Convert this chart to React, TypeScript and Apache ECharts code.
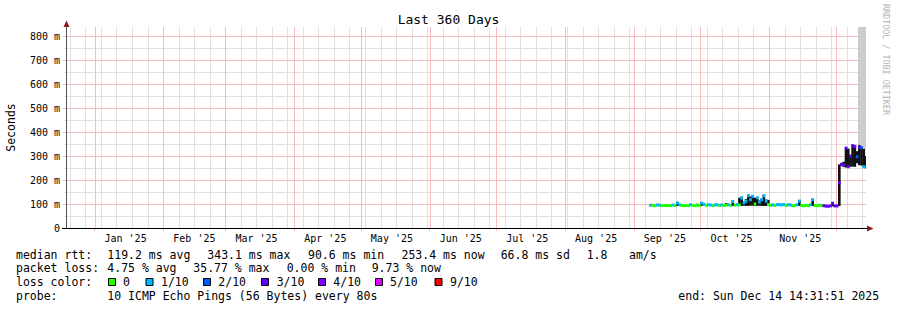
import React, { useEffect, useRef } from 'react';
import * as echarts from 'echarts';

// ---------- time frame ----------
const END_TIME = '2025-12-14T14:31:51Z';
const SPAN_DAYS = 360;
const DAY = 86400000;
const END = Date.parse(END_TIME);
const START = END - SPAN_DAYS * DAY;

// ---------- axes ----------
const monthLabels = ["Jan '25", "Feb '25", "Mar '25", "Apr '25", "May '25", "Jun '25", "Jul '25", "Aug '25", "Sep '25", "Oct '25", "Nov '25"];
const monthLabelDates = ['2025-01-15', '2025-02-15', '2025-03-15', '2025-04-15', '2025-05-15', '2025-06-15', '2025-07-15', '2025-08-15', '2025-09-15', '2025-10-15', '2025-11-15'];
const monthGridDates = ['2025-01-01', '2025-02-01', '2025-03-01', '2025-04-01', '2025-05-01', '2025-06-01', '2025-07-01', '2025-08-01', '2025-09-01', '2025-10-01', '2025-11-01', '2025-12-01'];
const firstWeekLine = '2024-12-21';
const yTicks = [0, 100, 200, 300, 400, 500, 600, 700, 800];
const yMinorTicks = [50, 150, 250, 350, 450, 550, 650, 750];
const Y_MAX = 837.5;

// ---------- data (daily bins from firstDay) ----------
const firstDay = '2025-09-08';
const medianRtt = [
  // Sep 8-30
  95, 94, 93, 96, 95, 93, 94, 93, 94, 93, 96, 94, 104, 97, 94, 93, 94, 93, 97, 94, 93, 95, 94,
  // Oct
  104, 99, 94, 97, 96, 93, 96, 97, 94, 96, 94, 95, 97, 94, 110, 95, 98, 96, 125, 105, 112, 135, 118, 132, 100, 126, 108, 118, 134, 112, 98,
  // Nov
  94, 97, 94, 98, 97, 96, 98, 94, 97, 96, 93, 94, 97, 112, 94, 93, 94, 93, 97, 118, 94, 93, 94, 93, 93, 91, 90.6, 92, 103, 92,
  // Dec 1-14
  92, 188, 264, 262, 333, 255, 300, 343.1, 340, 297, 338, 335, 255, 253.4,
];
const lossLevel = [
  1, 0, 0, 1, 1, 0, 0, 0, 0, 0, 1, 0, 1, 1, 0, 0, 0, 0, 1, 0, 0, 0, 0,
  1, 1, 0, 1, 1, 0, 1, 1, 0, 1, 0, 0, 1, 0, 1, 0, 1, 0, 1, 1, 1, 1, 1, 1, 0, 1, 1, 1, 1, 1, 0,
  0, 1, 0, 1, 1, 1, 1, 0, 1, 1, 0, 0, 1, 1, 0, 0, 0, 0, 1, 1, 0, 0, 0, 0, 3, 3, 3, 3, 3, 3,
  3, 3, 3, 4, 3, 3, 3, 3, 4, 2, 3, 2, 1, 1,
];
const smokeLo = [
  92, 91, 90, 93, 92, 90, 91, 90, 91, 90, 93, 91, 92, 94, 91, 90, 91, 90, 94, 91, 90, 92, 91,
  92, 96, 91, 94, 93, 90, 93, 94, 91, 93, 91, 92, 94, 91, 92, 92, 95, 92, 92, 93, 92, 92, 93, 93, 92, 92, 93, 92, 92, 92, 92,
  91, 94, 91, 95, 94, 93, 95, 91, 94, 93, 90, 91, 94, 92, 91, 90, 91, 90, 94, 92, 91, 90, 91, 90, 90, 88, 88, 89, 90, 89,
  89, 92, 258, 254, 252, 253, 255, 256, 255, 270, 262, 260, 253, 252,
];
const smokeHi = [
  97, 96, 95, 98, 97, 95, 96, 95, 96, 95, 98, 96, 109, 99, 96, 95, 96, 95, 99, 96, 95, 101, 96,
  108, 104, 96, 99, 98, 95, 98, 99, 96, 98, 96, 104, 99, 96, 115, 97, 102, 126, 131, 110, 121, 139, 131, 137, 126, 129, 115, 123, 139, 119, 117,
  96, 99, 96, 100, 99, 98, 100, 96, 99, 98, 95, 96, 99, 117, 96, 95, 96, 95, 99, 122, 96, 95, 96, 95, 95, 93, 93, 94, 108, 94,
  94, 265, 272, 276, 336, 331, 305, 347, 346, 320, 346, 336, 330, 300,
];
const greyDates = ['2025-11-05', '2025-11-06', '2025-11-07', '2025-11-08', '2025-11-22', '2025-11-23', '2025-11-24', '2025-12-11', '2025-12-12', '2025-12-13', '2025-12-14'];
const greyLo = [97, 98, 97, 98, 96, 96, 96, 330, 330, 330, 330];
const greyHi = [104, 103, 104, 103, 101, 102, 101, 900, 900, 900, 900];

// ---------- legend ----------
const lossLevels = [0, 1, 2, 3, 4, 5, 9];
const lossNames = ['0', '1/10', '2/10', '3/10', '4/10', '5/10', '9/10'];
const lossColors = ['#26ff00', '#00b8ff', '#0059ff', '#5e00ff', '#7e00ff', '#dd00ff', '#ff0000'];
const rttStats = ['119.2 ms avg', '343.1 ms max', '90.6 ms min', '253.4 ms now', '66.8 ms sd', '1.8', 'am/s'];
const lossStats = ['4.75 % avg', '35.77 % max', '0.00 % min', '9.73 % now'];
const probeText = '10 ICMP Echo Pings (56 Bytes) every 80s';
const endText = 'end: Sun Dec 14 14:31:51 2025';

const MONO = 'DejaVu Sans Mono';
const RED_GRID = '#f6bcbc';
const GREY_GRID = '#e0e0e0';

function buildOption() {
  const day0 = Date.parse(firstDay + 'T00:00:00Z');
  const dayTimes = medianRtt.map((_, i) => day0 + i * DAY);
  const monthLabelTimes = monthLabelDates.map((d) => Date.parse(d + 'T00:00:00Z'));
  const monthGridTimes = monthGridDates.map((d) => Date.parse(d + 'T00:00:00Z'));
  const weekTimes: number[] = [];
  for (let t = Date.parse(firstWeekLine + 'T00:00:00Z'); t <= END; t += 7 * DAY) weekTimes.push(t);

  const bandRender = (color: string) => (params: any, api: any) => {
    const t = api.value(0);
    const a = api.coord([t, api.value(2)]);
    const b = api.coord([t + DAY, api.value(1)]);
    return {
      type: 'rect',
      shape: { x: a[0], y: a[1], width: b[0] - a[0] + 0.4, height: Math.max(b[1] - a[1], 1) },
      style: { fill: color },
    };
  };
  const medianRender = (params: any, api: any) => {
    const t = api.value(0);
    const a = api.coord([t, api.value(1)]);
    const b = api.coord([t + DAY, api.value(1)]);
    const c = lossColors[lossLevels.indexOf(api.value(2))] || '#000';
    return {
      type: 'rect',
      shape: { x: a[0], y: a[1] - 1.5, width: b[0] - a[0] + 0.4, height: 3 },
      style: { fill: c },
    };
  };
  // major grid: one line per month start / per 100 m, placed through the scales
  const majorGridRender = (params: any, api: any) => {
    const kind = api.value(0);
    const v = api.value(1);
    let x1, y1, x2, y2;
    if (kind === 0) {
      const p = api.coord([v, 0]);
      const q = api.coord([v, Y_MAX]);
      x1 = Math.round(p[0]) + 0.5; x2 = x1; y1 = p[1]; y2 = q[1];
    } else {
      const p = api.coord([START, v]);
      const q = api.coord([END, v]);
      y1 = Math.round(p[1]) + 0.5; y2 = y1; x1 = p[0]; x2 = q[0];
    }
    return {
      type: 'line',
      shape: { x1, y1, x2, y2 },
      style: { stroke: RED_GRID, lineWidth: 1 },
    };
  };

  const legendY = [254.6, 268.3, 282, 295.7];
  const txt = (x: number, y: number, text: string) => ({
    type: 'text',
    x,
    y,
    style: { text, fill: '#000', font: `11.5px "${MONO}"`, verticalAlign: 'middle' },
    silent: true,
  });
  const rttX = [107.3, 207.3, 308, 401.5, 500.7, 586.7, 629];
  const lossX = [107.3, 193.3, 286.7, 371.7];
  const boxX = [108.5, 146, 203.5, 261.5, 318.5, 375.5, 435];
  const boxTextX = [123, 161, 218.3, 276.7, 333.3, 390, 450];

  const graphics: any[] = [
    txt(16, legendY[0], 'median rtt:'),
    ...rttStats.map((s, i) => txt(rttX[i], legendY[0], s)),
    txt(16, legendY[1], 'packet loss:'),
    ...lossStats.map((s, i) => txt(lossX[i], legendY[1], s)),
    txt(16, legendY[2], 'loss color:'),
    ...lossNames.map((n, i) => ({
      type: 'rect',
      shape: { x: boxX[i], y: legendY[2] - 3.5, width: 7, height: 7 },
      style: { fill: lossColors[i], stroke: '#000', lineWidth: 1 },
      silent: true,
    })),
    ...lossNames.map((n, i) => txt(boxTextX[i], legendY[2], n)),
    txt(16, legendY[3], 'probe:'),
    txt(107.3, legendY[3], probeText),
    txt(678.3, legendY[3], endText),
    {
      type: 'text',
      x: 11,
      y: 127.5,
      rotation: Math.PI / 2,
      style: { text: 'Seconds', fill: '#000', font: `11.5px "${MONO}"`, align: 'center', verticalAlign: 'middle' },
      silent: true,
    },
    {
      type: 'text',
      x: 886,
      y: 4,
      rotation: -Math.PI / 2,
      style: { text: 'RRDTOOL / TOBI OETIKER', fill: '#b4b4b4', font: `8.4px "${MONO}"`, align: 'left', verticalAlign: 'middle' },
      silent: true,
    },
    // axis lines & arrows
    { type: 'line', shape: { x1: 62, y1: 228.5, x2: 868, y2: 228.5 }, style: { stroke: '#000', lineWidth: 1 }, silent: true, z: 10 },
    { type: 'line', shape: { x1: 66.5, y1: 26, x2: 66.5, y2: 228 }, style: { stroke: '#555', lineWidth: 1 }, silent: true, z: 10 },
    { type: 'polygon', shape: { points: [[867, 225.5], [873.5, 228.5], [867, 231.5]] }, style: { fill: '#8b1a1a' }, silent: true, z: 11 },
    { type: 'polygon', shape: { points: [[63.5, 27], [66.5, 20.5], [69.5, 27]] }, style: { fill: '#8b1a1a' }, silent: true, z: 11 },
  ];

  const majorGridData = [
    ...monthGridTimes.map((t) => [0, t]),
    ...yTicks.filter((v) => v > 0).map((v) => [1, v]),
  ];

  return {
    animation: false,
    backgroundColor: '#ffffff',
    tooltip: { show: false },
    title: {
      text: 'Last 360 Days',
      left: 'center',
      top: 8,
      textStyle: { fontFamily: MONO, fontSize: 13, fontWeight: 'normal', color: '#000' },
    },
    grid: { left: 67, right: 31, top: 27, bottom: 82, containLabel: false, outerBoundsMode: 'none' },
    xAxis: [
      {
        type: 'value',
        position: 'bottom',
        min: START,
        max: END,
        axisLine: { show: false },
        axisTick: { show: true, customValues: weekTimes, length: 2, inside: true, lineStyle: { color: GREY_GRID } },
        axisLabel: { show: false },
        splitLine: { show: true, lineStyle: { color: GREY_GRID, width: 1 } },
      },
      {
        type: 'value',
        position: 'bottom',
        min: START,
        max: END,
        axisLine: { show: false },
        axisTick: { show: true, customValues: monthGridTimes, length: 3, inside: false, lineStyle: { color: RED_GRID } },
        axisLabel: {
          show: true,
          customValues: monthLabelTimes,
          formatter: (v: number) => {
            const i = monthLabelTimes.indexOf(v);
            return i >= 0 ? monthLabels[i] : '';
          },
          fontFamily: MONO,
          fontSize: 10,
          color: '#000',
          margin: 5,
        },
        splitLine: { show: false },
      },
    ],
    yAxis: [
      {
        type: 'value',
        position: 'left',
        min: 0,
        max: Y_MAX,
        axisLine: { show: false },
        axisTick: { show: true, customValues: yMinorTicks, length: 2, lineStyle: { color: GREY_GRID } },
        axisLabel: { show: false },
        splitLine: { show: true, lineStyle: { color: GREY_GRID, width: 1 } },
      },
      {
        type: 'value',
        position: 'left',
        min: 0,
        max: Y_MAX,
        axisLine: { show: false },
        axisTick: { show: true, customValues: yTicks, length: 4, lineStyle: { color: RED_GRID } },
        axisLabel: {
          show: true,
          customValues: yTicks,
          formatter: (v: number) => (v === 0 ? '0' : `${v} m`),
          fontFamily: MONO,
          fontSize: 10,
          color: '#000',
          margin: 7,
        },
        splitLine: { show: false },
      },
    ],
    series: [
      {
        name: 'major grid',
        type: 'custom',
        xAxisIndex: 0,
        yAxisIndex: 0,
        clip: false,
        silent: true,
        renderItem: majorGridRender,
        encode: { x: -1, y: -1 },
        data: majorGridData,
        z: 1,
      },
      {
        name: 'smoke grey',
        type: 'custom',
        xAxisIndex: 0,
        yAxisIndex: 0,
        clip: true,
        silent: true,
        renderItem: bandRender('#cccccc'),
        encode: { x: 0, y: [1, 2] },
        data: greyDates.map((d, i) => [Date.parse(d + 'T00:00:00Z'), greyLo[i], greyHi[i]]),
        z: 2,
      },
      {
        name: 'smoke',
        type: 'custom',
        xAxisIndex: 0,
        yAxisIndex: 0,
        clip: true,
        silent: true,
        renderItem: bandRender('#111111'),
        encode: { x: 0, y: [1, 2] },
        data: dayTimes.map((t, i) => [t, smokeLo[i], smokeHi[i]]),
        z: 3,
      },
      {
        name: 'median rtt',
        type: 'custom',
        xAxisIndex: 0,
        yAxisIndex: 0,
        clip: true,
        silent: true,
        renderItem: medianRender,
        encode: { x: 0, y: 1 },
        data: dayTimes.map((t, i) => [t, medianRtt[i], lossLevel[i]]),
        z: 4,
      },
    ],
    graphic: graphics,
  };
}

export default function App() {
  const ref = useRef<HTMLDivElement>(null);
  useEffect(() => {
    document.body.style.margin = '0';
    document.documentElement.style.margin = '0';
    if (!ref.current) return;
    const chart = echarts.init(ref.current, null, { renderer: 'svg', width: 897, height: 310 });
    chart.setOption(buildOption() as any);
    return () => chart.dispose();
  }, []);
  return (
    <div style={{ position: 'fixed', left: 0, top: 0, width: 897, height: 310, background: '#fff' }}>
      <div ref={ref} style={{ width: 897, height: 310 }} />
    </div>
  );
}
